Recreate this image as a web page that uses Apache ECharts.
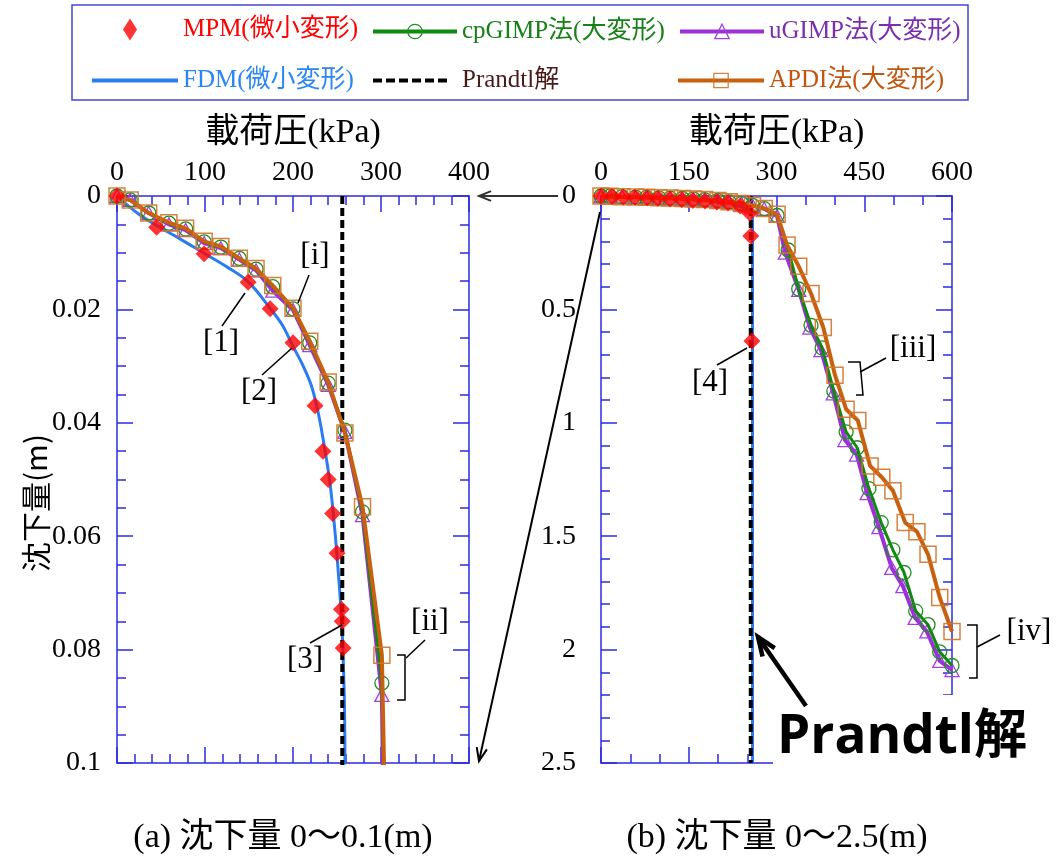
<!DOCTYPE html>
<html>
<head>
<meta charset="utf-8">
<script src="https://cdn.jsdelivr.net/npm/echarts@6/dist/echarts.min.js"></script>
<style>
html,body{margin:0;padding:0;background:#ffffff;}
#chart{width:1056px;height:862px;}
</style>
</head>
<body>
<div id="chart"></div>
<script>
// ---------------- data (load kPa, settlement m) ----------------
const nameMPM = 'MPM(微小変形)';
const nameCP = 'cpGIMP法(大変形)';
const nameUG = 'uGIMP法(大変形)';
const nameFDM = 'FDM(微小変形)';
const namePR = 'Prandtl解';
const nameAP = 'APDI法(大変形)';

// MPM, panel (a)
const mpmA = [[0,0],[45,0.0055],[99,0.0102],[149,0.0152],[174,0.0199],[200,0.0259],[225,0.037],[234,0.045],[240,0.050],[245,0.056],[250,0.063],[255,0.0729],[256,0.075],[257,0.0797]];
// MPM, panel (b)
const mpmB = [[0,0],[19,0.002],[38,0.004],[58,0.006],[79,0.008],[97,0.01],[118,0.013],[138,0.016],[157,0.02],[178,0.022],[198,0.026],[217,0.03],[238,0.044],[254,0.075],[256,0.176],[258,0.639]];
// FDM
const fdm = [[0,0],[23,0.003],[45,0.0052],[72,0.0076],[99,0.0101],[125,0.0125],[149,0.0151],[174,0.0198],[188,0.0228],[199,0.0262],[211,0.0298],[221,0.0335],[229,0.0385],[236,0.0445],[242,0.0506],[247,0.058],[251,0.0654],[255,0.074],[257,0.0815],[258.5,0.09],[259,0.1],[259,2.5]];
// Prandtl solution
const prandtl = [[256,0],[256,2.5]];
// cpGIMP
const cpgimp = [[0,0],[15,0.0007],[36,0.003],[59,0.0048],[78,0.0058],[99,0.0081],[118,0.009],[139,0.011],[158,0.0129],[177,0.016],[200,0.0199],[219,0.0259],[240,0.033],[259,0.0413],[279,0.0557],[301,0.0859],[320,0.238],[338,0.41],[359,0.57],[378,0.67],[398,0.86],[419,1.04],[438,1.11],[458,1.29],[479,1.44],[499,1.56],[518,1.66],[538,1.83],[559,1.89],[579,2.01],[600,2.07]];
// uGIMP
const ugimp = [[0,0],[15,0.0007],[36,0.003],[59,0.005],[78,0.006],[99,0.0083],[118,0.0092],[139,0.0112],[158,0.0131],[177,0.0167],[200,0.0201],[219,0.0263],[240,0.0333],[259,0.0416],[279,0.0563],[301,0.088],[315,0.25],[338,0.414],[357,0.58],[376,0.68],[397,0.87],[417,1.076],[437,1.14],[455,1.31],[475,1.46],[497,1.64],[516,1.72],[537,1.86],[557,1.92],[579,2.05],[600,2.09]];
// APDI
const apdi = [[0,0],[15,0.0007],[36,0.003],[59,0.0047],[78,0.0057],[99,0.008],[118,0.0089],[139,0.011],[158,0.0128],[177,0.0158],[200,0.0198],[219,0.0256],[240,0.0328],[259,0.0418],[279,0.0548],[301,0.081],[318,0.216],[338,0.31],[359,0.43],[380,0.58],[400,0.79],[419,0.94],[439,0.99],[460,1.19],[480,1.24],[499,1.30],[520,1.44],[540,1.48],[559,1.58],[579,1.77],[600,1.92]];

// axis ranges
const xRangeA = [0, 400, 100];
const yRangeA = [0, 0.1, 0.02];
const xRangeB = [0, 600, 150];
const yRangeB = [0, 2.5, 0.5];

const xTitle = '載荷圧(kPa)';
const yTitle = '沈下量(m)';
const captionA = '(a) 沈下量 0〜0.1(m)';
const captionB = '(b) 沈下量 0〜2.5(m)';

// ---------------- styles ----------------
const SERIF = "'Liberation Serif','Times New Roman','Noto Sans CJK JP',serif";
const SANS = "'Open Sans','Noto Sans CJK JP',sans-serif";
const AX = '#2b2be0';
const COL = {
  mpm: '#ff0000', fdm: '#2a7cf2', pr: '#000000',
  cp: '#0f8a0f', cpM: '#1f8f1f', ug: '#9a30d6', ugM: '#a040e0', ap: '#c8600e', apM: '#d27428'
};

const chart = echarts.init(document.getElementById('chart'));

function xAxisDef(grid, r, minorSplit, top) {
  return {
    gridIndex: grid, type: 'value', position: top ? 'top' : 'bottom',
    min: r[0], max: r[1], interval: r[2],
    axisLine: {show: true, onZero: false, lineStyle: {color: AX, width: 1.5}},
    axisTick: {show: true, inside: true, length: 16, lineStyle: {color: AX, width: 1.5}},
    minorTick: {show: true, splitNumber: minorSplit, length: 9, lineStyle: {color: AX, width: 1.5}},
    splitLine: {show: false}, minorSplitLine: {show: false},
    axisLabel: {show: top, fontFamily: SERIF, fontSize: 28, color: '#000', margin: 9, showMinLabel: true, showMaxLabel: true},
    name: top ? xTitle : '', nameLocation: 'middle', nameGap: 46,
    nameTextStyle: {fontFamily: SERIF, fontSize: 34, color: '#000'}
  };
}
function yAxisDef(grid, r, minorSplit, left, margin) {
  return {
    gridIndex: grid, type: 'value', position: left ? 'left' : 'right', inverse: true,
    min: r[0], max: r[1], interval: r[2],
    axisLine: {show: true, onZero: false, lineStyle: {color: AX, width: 1.5}},
    axisTick: {show: true, inside: true, length: 16, lineStyle: {color: AX, width: 1.5}},
    minorTick: {show: true, splitNumber: minorSplit, length: 9, lineStyle: {color: AX, width: 1.5}},
    splitLine: {show: false}, minorSplitLine: {show: false},
    axisLabel: {show: left, fontFamily: SERIF, fontSize: 28, color: '#000', margin: margin, showMinLabel: true, showMaxLabel: true}
  };
}

function seriesFor(g, mpm) {
  const xi = g * 2, yi = g * 2;
  const base = {xAxisIndex: xi, yAxisIndex: yi, clip: true, animation: false, emphasis: {disabled: true}};
  return [
    Object.assign({}, base, {name: nameFDM, type: 'line', data: fdm, symbol: 'none', smooth: g === 0 ? 0.35 : false,
      lineStyle: {color: COL.fdm, width: 3}, itemStyle: {color: COL.fdm}, z: 2}),
    Object.assign({}, base, {name: namePR, type: 'line', data: prandtl, symbol: 'none',
      lineStyle: {color: COL.pr, width: 4, type: [8, 4]}, itemStyle: {color: COL.pr}, z: 3}),
    Object.assign({}, base, {name: nameUG, type: 'line', data: ugimp, symbol: 'triangle', symbolSize: [14, 13],
      lineStyle: {color: COL.ug, width: 4}, itemStyle: {color: 'transparent', borderColor: COL.ugM, borderWidth: 1.3}, z: 4}),
    Object.assign({}, base, {name: nameCP, type: 'line', data: cpgimp, symbol: 'circle', symbolSize: 14,
      lineStyle: {color: COL.cp, width: 3}, itemStyle: {color: 'transparent', borderColor: COL.cpM, borderWidth: 1.3}, z: 5}),
    Object.assign({}, base, {name: nameAP, type: 'line', data: apdi, symbol: 'rect', symbolSize: 16,
      lineStyle: {color: COL.ap, width: 4}, itemStyle: {color: 'transparent', borderColor: COL.apM, borderWidth: 1.5, opacity: 0.9}, z: 6}),
    Object.assign({}, base, {name: nameMPM, type: 'scatter', data: mpm, symbol: 'diamond', symbolSize: 17,
      itemStyle: {color: COL.mpm}, z: 7})
  ];
}

const legendBase = {orient: 'horizontal', padding: 0, selectedMode: false, itemGap: 0};
function lg(name, left, top, w, h, color, extra) {
  return Object.assign({}, legendBase, {
    data: [name], left: left, top: top, itemWidth: w, itemHeight: h,
    textStyle: {fontFamily: SERIF, fontSize: 25, color: color},
    lineStyle: {width: 4}, itemStyle: {borderWidth: 1.3}
  }, extra || {});
}
const dashIcon = 'path://M0,0h9v4h-9z M13,0h9v4h-9z M26,0h9v4h-9z M39,0h9v4h-9z M52,0h9v4h-9z M65,0h9v4h-9z';

// ---------------- annotation graphics (pixel layout) ----------------
function arrow(x1, y1, x2, y2, w, h, color) {
  const ang = Math.atan2(y2 - y1, x2 - x1);
  const a1 = ang + Math.PI - 0.38, a2 = ang + Math.PI + 0.38;
  return [
    {type: 'line', shape: {x1: x1, y1: y1, x2: x2, y2: y2}, style: {stroke: color, lineWidth: w}, z: 100},
    {type: 'polyline', shape: {points: [[x2 + h * Math.cos(a1), y2 + h * Math.sin(a1)], [x2, y2], [x2 + h * Math.cos(a2), y2 + h * Math.sin(a2)]]},
      style: {stroke: color, lineWidth: w, fill: null}, z: 100}
  ];
}
function txt(t, x, y, size, opts) {
  return Object.assign({type: 'text', x: x, y: y, z: 100,
    style: {text: t, fontFamily: SERIF, fontSize: size, fill: '#000', align: 'center', verticalAlign: 'middle'}}, opts || {});
}
function pl(points, w) {
  return {type: 'polyline', shape: {points: points}, style: {stroke: '#000', lineWidth: w || 1.5, fill: null}, z: 100};
}

const graphics = [
  // legend frame
  {type: 'rect', shape: {x: 72, y: 5, width: 896, height: 95}, style: {fill: null, stroke: '#4646cf', lineWidth: 1.5}, z: 100},
  // y title
  txt(yTitle, 36, 503, 31, {rotation: Math.PI / 2, style: {text: yTitle, fontFamily: "'Noto Sans CJK JP',sans-serif", fontSize: 30, fill: '#000', align: 'center', verticalAlign: 'middle'}}),
  // captions
  txt(captionA, 283, 838, 34),
  txt(captionB, 777, 838, 34),
  // panel (a) labels
  txt('[i]', 315, 256, 31), pl([[309, 275], [298, 303]]),
  txt('[1]', 221, 343, 31), pl([[245, 293], [222, 326]]),
  txt('[2]', 259, 392, 31), pl([[292, 348], [262, 375]]),
  txt('[3]', 305, 660, 31), pl([[342, 625], [310, 643]]),
  txt('[ii]', 430, 622, 31), pl([[425, 640], [406, 658]]), pl([[397, 655], [405, 655], [405, 700], [397, 700]]),
  // panel (b) labels
  txt('[4]', 710, 383, 31), pl([[747, 348], [717, 365]]),
  txt('[iii]', 913, 349, 31), pl([[886, 358], [860, 372]]), pl([[848, 362], [860, 362], [863, 395], [856, 395]]),
  txt('[iv]', 1029, 632, 31), pl([[1000, 635], [977, 647]]), pl([[967, 625], [977, 625], [977, 678], [969, 678]]),
  // white box behind big label
  {type: 'rect', shape: {x: 773, y: 695, width: 283, height: 110}, style: {fill: '#ffffff'}, z: 90},
  txt(namePR, 902, 738, 52, {style: {text: namePR, fontFamily: SANS, fontWeight: 'bold', fontSize: 53, fill: '#000', align: 'center', verticalAlign: 'middle'}})
].concat(
  arrow(558, 196, 479, 196, 2, 13, '#333'),
  arrow(600, 212, 479, 761, 2, 14, '#000'),
  arrow(806, 706, 758, 637, 4.5, 20, '#000')
);

const option = {
  backgroundColor: '#ffffff',
  animation: false,
  grid: [
    {left: 117, top: 196, width: 352, height: 567},
    {left: 601, top: 196, width: 351, height: 567}
  ],
  xAxis: [
    xAxisDef(0, xRangeA, 5, true), xAxisDef(0, xRangeA, 5, false),
    xAxisDef(1, xRangeB, 3, true), xAxisDef(1, xRangeB, 3, false)
  ],
  yAxis: [
    yAxisDef(0, yRangeA, 4, true, 16), yAxisDef(0, yRangeA, 4, false, 8),
    yAxisDef(1, yRangeB, 5, true, 25), yAxisDef(1, yRangeB, 5, false, 8)
  ],
  legend: [
    lg(nameMPM, 123, 17, 14, 22, '#ff0000', {data: [{name: nameMPM, icon: 'diamond'}], symbolKeepAspect: false,
      textStyle: {fontFamily: SERIF, fontSize: 25, color: '#ff0000', padding: [0, 0, 0, 41]}}),
    lg(nameCP, 371, 19, 84, 18, '#178017'),
    lg(nameUG, 678, 19, 84, 18, '#7a2fae'),
    lg(nameFDM, 92, 68, 86, 4, '#2a86f4', {data: [{name: nameFDM, icon: 'rect'}], symbolKeepAspect: false}),
    lg(namePR, 373, 68, 74, 4, '#4a1a1a', {data: [{name: namePR, icon: dashIcon}], symbolKeepAspect: false,
      textStyle: {fontFamily: SERIF, fontSize: 25, color: '#4a1a1a', padding: [0, 0, 0, 10]}}),
    lg(nameAP, 676, 68, 86, 18, '#c0560f')
  ],
  series: seriesFor(0, mpmA).concat(seriesFor(1, mpmB)),
  graphic: {elements: graphics}
};
chart.setOption(option);
</script>
</body>
</html>
